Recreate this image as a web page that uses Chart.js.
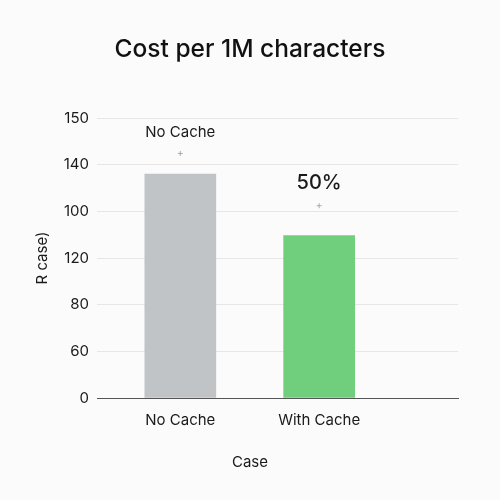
<!DOCTYPE html>
<html>
<head>
<meta charset="utf-8">
<script src="https://cdn.jsdelivr.net/npm/chart.js@4/dist/chart.umd.min.js"></script>
<style>
  html, body { margin: 0; padding: 0; background: #fbfbfb; }
  #wrap { width: 500px; height: 500px; }
</style>
</head>
<body>
<div id="wrap"><canvas id="c" width="500" height="500"></canvas></div>
<script>
const chartTitle = 'Cost per 1M characters';
const categories = ['No Cache', 'With Cache'];
const costs = [120, 87];
const barColors = ['#c0c4c6', '#6fcf7c'];
const yTickLabels = ['0', '60', '80', '120', '100', '140', '150'];
const markerValues = [131, 103];
const annotationLabels = ['No Cache', '50%'];
const annotationValues = [142, 115];
const yAxisTitle = 'R case)';
const xAxisTitle = 'Case';

const FONT = 'Inter, "Liberation Sans", Arial, sans-serif';

const annotationPlugin = {
  id: 'annotations',
  afterDatasetsDraw(chart) {
    const { ctx, scales } = chart;
    ctx.save();
    ctx.textAlign = 'center';
    ctx.textBaseline = 'middle';
    annotationLabels.forEach((t, i) => {
      const x = scales.x.getPixelForValue(i);
      const y = scales.y.getPixelForValue(annotationValues[i]);
      if (i === 0) { ctx.font = '400 15px ' + FONT; } else { ctx.font = '500 20px ' + FONT; }
      ctx.fillStyle = '#1a1a1a';
      ctx.fillText(t, x, y);
    });
    // x axis title, centered on the page
    ctx.font = '400 15px ' + FONT;
    ctx.fillStyle = '#1a1a1a';
    ctx.fillText(xAxisTitle, chart.width / 2, 462);
    ctx.restore();
  }
};

new Chart(document.getElementById('c'), {
  type: 'bar',
  data: {
    datasets: [
      {
        type: 'bar',
        data: categories.map((c, i) => ({ x: i, y: costs[i] })),
        backgroundColor: barColors,
        barThickness: 71,
        order: 2
      },
      {
        type: 'scatter',
        data: markerValues.map((v, i) => ({ x: i, y: v })),
        pointStyle: 'crossRot',
        rotation: 45,
        radius: 2.5,
        borderColor: '#9a9a9a',
        borderWidth: 0.8,
        backgroundColor: '#9a9a9a',
        order: 1
      }
    ]
  },
  options: {
    responsive: false,
    animation: false,
    devicePixelRatio: 1,
    layout: { padding: { left: 21, right: 21, top: 35, bottom: 0 } },
    plugins: {
      legend: { display: false },
      tooltip: { enabled: false },
      title: {
        display: true,
        text: chartTitle,
        color: '#111',
        font: { family: FONT, size: 24.5, weight: '500', lineHeight: 1.2 },
        padding: { top: 0, bottom: 53.6 }
      }
    },
    scales: {
      x: {
        type: 'linear',
        offset: false,
        min: -0.6,
        max: 2.0,
        grid: { display: false, drawTicks: false, offset: false },
        border: { display: true, color: '#555', width: 1 },
        afterBuildTicks: (scale) => { scale.ticks = categories.map((c, i) => ({ value: i })); },
        afterFit: (scale) => { scale.height = 102; },
        ticks: {
          padding: 13,
          color: '#1a1a1a',
          font: { family: FONT, size: 15 },
          callback: (v) => categories[v] ?? ''
        }
      },
      y: {
        min: 0,
        max: 150,
        afterFit: (scale) => { scale.width = 76; },
        ticks: {
          stepSize: 25,
          padding: 8,
          color: '#1a1a1a',
          font: { family: FONT, size: 15 },
          callback: (v, idx) => yTickLabels[idx]
        },
        grid: { color: '#e6e6e6', drawTicks: false, lineWidth: 1 },
        border: { display: false },
        title: {
          display: true,
          text: yAxisTitle,
          color: '#1a1a1a',
          font: { family: FONT, size: 15 },
          padding: { top: 12, bottom: 4 }
        }
      },
      yRight: {
        position: 'right',
        display: true,
        min: 0,
        max: 150,
        afterFit: (scale) => { scale.width = 21; },
        ticks: { display: false },
        grid: { display: false, drawTicks: false },
        border: { display: false }
      }
    }
  },
  plugins: [annotationPlugin, {
    id: 'bg',
    beforeDraw(chart) {
      const c = chart.ctx; c.save(); c.fillStyle = '#fbfbfb'; c.fillRect(0, 0, chart.width, chart.height); c.restore();
    }
  }]
});
</script>
</body>
</html>
